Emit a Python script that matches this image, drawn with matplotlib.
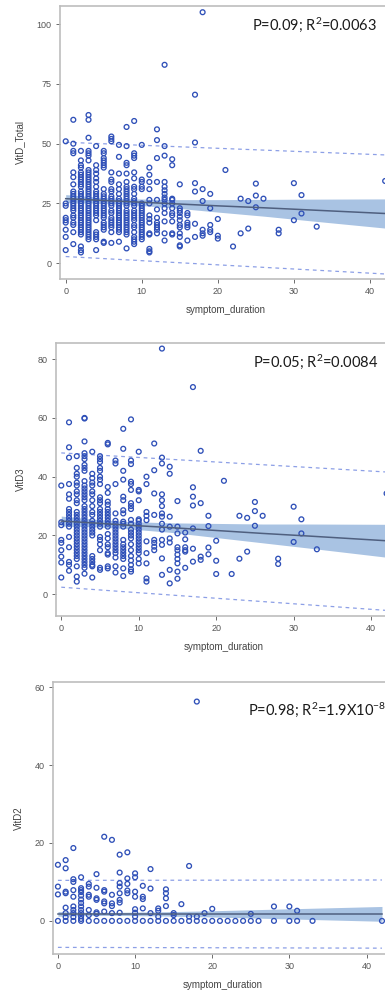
import numpy as np
import matplotlib
matplotlib.use('Agg')
import matplotlib.pyplot as plt

plt.rcParams['font.family'] = ['Liberation Sans', 'DejaVu Sans']
plt.rcParams['mathtext.default'] = 'regular'

# symptom duration values (days) and the VitD readings at each one
days = [0, 1, 2, 3, 4, 5, 6, 7, 8, 9, 10, 11, 12, 13, 14, 15, 16, 17, 18, 19, 20,
        21, 22, 23, 24, 25, 26, 28, 30, 31, 33, 42]

vitd_total = [
    [51, 25, 24, 19, 18, 17, 14, 11, 5.5],
    [60, 50, 47, 46, 38, 36, 33, 30, 29, 28, 27, 26, 25, 24, 23, 22, 20, 19, 17, 16, 13, 8],
    [47, 43, 41, 40, 38, 37, 36, 35, 34, 33, 32, 30, 29, 28, 27, 26, 25, 24, 23, 22, 21, 20,
     19, 18, 17, 16, 15, 14, 13, 12, 7, 5.5, 4.5],
    [62, 60, 52.5, 47, 46, 45, 43, 39, 38, 37, 36, 35, 34, 33, 32, 31, 30, 29, 28, 27, 26, 25,
     24, 23, 22, 21, 20, 19, 18, 17, 16, 15, 14, 13, 12, 11, 10],
    [49, 41, 39, 37.5, 35.5, 34, 32, 30, 29, 28, 27, 26, 25, 24, 23, 22, 21, 20, 18, 13, 12, 11, 10, 5.5],
    [47, 46, 44, 43, 42, 41, 40, 31, 29, 28, 27, 26, 25, 24, 23, 22, 21, 20, 19, 17, 16, 15, 14, 9, 8.5],
    [53, 52, 51, 38, 35, 34, 31, 30, 28, 27, 26, 25, 24, 22, 21, 19, 18, 17, 16, 15, 13, 8.5],
    [49.5, 44.5, 37.5, 33, 31, 29, 27, 26, 25, 24, 23, 22, 21, 20, 19, 18, 17, 16, 15, 14, 13, 9],
    [57, 49, 42, 41, 37.5, 34, 32, 31, 30, 29, 28, 27, 26, 25, 24, 22, 21, 20, 19, 18, 17, 16,
     15, 14, 13, 12, 6.2],
    [59.5, 46, 45, 44, 38, 35.5, 32, 31, 29, 27, 26, 25, 24, 22, 21, 20, 19, 18, 16, 15, 13, 11, 10, 9, 8],
    [49.5, 35, 34, 32, 31, 25, 24, 23, 22, 21, 20, 19, 18, 17, 16, 15, 14, 13, 12, 11, 10],
    [40, 37, 34, 31, 26.5, 25, 20, 18.5, 17, 12.5, 12, 6, 5, 4.5],
    [56, 51.5, 44, 34, 26.5, 22.5, 19, 17, 16, 15, 14, 12.5],
    [83, 49, 45, 34, 32, 30.5, 29, 27.5, 26.5, 25, 23, 21, 17.5, 12.5, 9.5],
    [43.5, 41, 27, 26.5, 25, 23, 21, 20, 17.5, 12.5, 12],
    [33, 23, 22, 21, 19.5, 18, 16, 15, 12.5, 11, 7.5, 7],
    [21, 20, 17, 16, 15, 9.5],
    [70.5, 50.5, 33.5, 30, 16.5, 11],
    [105, 31, 26, 14, 12.5, 11.5],
    [29, 23, 16, 14, 13],
    [18.5, 11.5, 10.3],
    [39], [7], [27, 12.5], [26, 14.5], [33.3, 28.3, 23.4], [27],
    [14, 12.5], [33.5, 18], [28.5, 20.8], [15.3], [34.4],
]

vitd3 = [
    [37, 24.5, 23.5, 18.5, 17.5, 15, 12.8, 10.8, 5.7],
    [58.5, 50, 46.5, 37.5, 34, 32.5, 29, 28, 27, 26, 25, 24, 23, 19.5, 16, 11, 10, 8],
    [47, 43, 41, 40, 38, 37, 35, 34, 32, 31, 28, 27, 26, 25, 24, 23, 22, 21, 20, 19, 18, 17,
     16, 15, 14, 13, 12, 9.5, 6, 4.3],
    [60, 59.8, 52, 48, 47, 46, 44, 43, 42, 38.5, 37, 36, 35, 34, 33, 32, 30, 29, 28, 27, 26, 25,
     24, 23, 22, 21, 20, 19, 18, 17, 16, 15, 14, 13, 12, 11, 10, 9, 7],
    [48.5, 41, 39.5, 38, 37, 35, 34, 32, 30, 28, 27, 25, 24, 23, 22, 21, 20, 13, 12, 11, 10, 9.5, 5.7],
    [47, 46, 45, 43, 42, 40, 39, 37.5, 33, 32, 31, 29, 28, 27, 26, 25, 24, 23, 19.5, 18.5, 17, 15, 9, 8.3],
    [51.5, 51, 36.5, 34.5, 31.5, 30.5, 29, 28, 27, 26, 25, 24, 23, 20.5, 19, 17, 16, 14, 13.5, 9.5, 8.8],
    [45.5, 44.5, 37.5, 27.5, 25, 24, 23, 22, 21, 20, 19, 18, 17, 16, 15, 14, 12.5, 9.5, 7.4],
    [56.3, 49.5, 42, 39, 33.2, 32, 28.6, 27.5, 24.7, 24, 23, 18.5, 17, 16, 15, 14, 13, 12, 8.8, 6.2],
    [59.5, 45.5, 44.3, 38.3, 37.5, 35.5, 31, 30, 29, 25.3, 24, 22, 21, 20, 19, 17, 15, 13, 11.5, 10, 8.5, 7.7],
    [48.5, 35.5, 35, 32, 25.5, 25, 24, 23, 22, 21, 20, 19, 18, 17, 16, 15, 14, 12, 10.5],
    [40, 37.5, 28, 26.7, 25.2, 18, 14, 10.5, 5.4, 4.3],
    [51.3, 42.2, 34.3, 27, 18.5, 17.5, 16.2, 15],
    [83.6, 46.5, 44.5, 34, 32, 30, 27.5, 26.4, 24, 22, 18.5, 16.8, 12.2, 6.6],
    [43.4, 41, 26.4, 23, 19, 17.6, 8.3, 3.7],
    [31.7, 23, 20.7, 16, 15, 13.5, 12, 10.5, 7.7, 5.3],
    [21, 18.7, 16, 15, 14.5, 9],
    [70.5, 36.4, 33.2, 30.2, 22.4, 15.5, 11.1],
    [48.8, 31, 12.8, 11.7],
    [26.7, 23.2, 15.9, 13.6],
    [18.2, 11.4, 6.9],
    [38.6], [6.9], [26.7, 12.1], [26, 14.5], [31.4, 28.3, 23.3], [26.7],
    [12.1, 10.3], [29.8, 17.8], [25.5, 20.7], [15.3], [34.3],
]

vitd2 = [
    [14.4, 8.8, 6.8, 0],
    [15.6, 13.5, 7.5, 7.1, 3.4, 2, 1, 0],
    [18.7, 10.7, 10, 7.9, 6.2, 3.7, 2.8, 2, 1, 0],
    [11.2, 8.4, 7.9, 7.4, 6.5, 5.5, 4.6, 3.7, 2.8, 2, 1.2, 0.5, 0],
    [9.5, 8.8, 6.7, 6.2, 2.8, 1.5, 0],
    [12, 8.5, 5.8, 5.4, 2.2, 1.8, 0],
    [21.6, 7.9, 7.5, 5, 4.5, 2.4, 0],
    [20.8, 6.7, 4.5, 3.8, 2, 0],
    [17, 12.4, 9.7, 8.8, 7.1, 5.4, 4.7, 2.1, 0],
    [17.6, 10.9, 9.5, 7.8, 7.1, 0],
    [12.2, 11.2, 7.5, 6.2, 3, 2.1, 1.1, 0],
    [9, 6.2, 5.6, 3.2, 0],
    [13.3, 8.3, 2, 0],
    [3.2, 2.6, 1.1, 0],
    [8.1, 7.1, 5.8, 3.8, 0],
    [2, 1.5, 0],
    [4.3, 0],
    [14.1, 1.1, 0],
    [56.3, 1.1, 0],
    [2, 0],
    [3.1, 0],
    [0], [0], [0], [0], [1.8, 0], [0],
    [3.7, 0], [3.7, 0], [2.6, 0], [0], [0],
]

# fitted line, 95% confidence band and prediction limits
band_x = [0, 4, 8, 14, 20, 26, 32, 42]
total_fit = [27.0, 26.4, 25.8, 24.9, 24.0, 23.2, 22.3, 20.8]
total_ci_hi = [28.7, 27.7, 27.0, 26.6, 26.6, 26.7, 26.8, 26.9]
total_ci_lo = [25.3, 25.1, 24.6, 23.2, 21.4, 19.7, 17.8, 14.7]
d3_fit = [24.9, 24.3, 23.6, 22.7, 21.7, 20.7, 19.8, 18.2]
d3_ci_hi = [26.6, 25.6, 24.8, 24.3, 24.1, 23.9, 23.9, 23.8]
d3_ci_lo = [23.2, 23.0, 22.4, 21.1, 19.3, 17.5, 15.7, 12.6]
d2_fit = [1.8, 1.8, 1.8, 1.8, 1.8, 1.8, 1.8, 1.8]
d2_ci_hi = [2.4, 2.2, 2.2, 2.35, 2.6, 2.9, 3.2, 3.7]
d2_ci_lo = [1.2, 1.4, 1.4, 1.25, 1.0, 0.7, 0.4, -0.1]

pi_x = [0, 42]
total_pi_hi = [50.6, 45.3]
total_pi_lo = [2.8, -4.5]
d3_pi_hi = [48.1, 41.6]
d3_pi_lo = [2.4, -5.5]
d2_pi_hi = [10.4, 10.5]
d2_pi_lo = [-6.8, -7.0]

stats_text = ['P=0.09; R$^2$=0.0063', 'P=0.05; R$^2$=0.0084', 'P=0.98; R$^2$=1.9X10$^{-8}$']
ylabels = ['VitD_Total', 'VitD3', 'VitD2']

W, H = 385, 994
fig = plt.figure(figsize=(W / 100, H / 100), dpi=100)

# axes boxes in pixels: left, top, bottom (right runs off the image)
boxes = [(60, 6, 279), (55.7, 342.7, 616), (53.3, 681.7, 954)]
xlims = [(-0.75, 42.9), (-0.72, 42.7), (-0.6, 43.3)]
ylims = [(-6.6, 107.6), (-7.4, 85.6), (-8.5, 61.4)]
yticks = [[0, 25, 50, 75, 100], [0, 20, 40, 60, 80], [0, 20, 40, 60]]
text_pos = [(252, 25), (253, 361.7), (248, 710)]

panels = [
    (vitd_total, total_fit, total_ci_hi, total_ci_lo, total_pi_hi, total_pi_lo),
    (vitd3, d3_fit, d3_ci_hi, d3_ci_lo, d3_pi_hi, d3_pi_lo),
    (vitd2, d2_fit, d2_ci_hi, d2_ci_lo, d2_pi_hi, d2_pi_lo),
]

marker_col = '#2f50b8'
for i, (vals, fit, ci_hi, ci_lo, pi_hi, pi_lo) in enumerate(panels):
    left, top, bottom = boxes[i]
    ax = fig.add_axes([left / W, 1 - bottom / H, (392 - left) / W, (bottom - top) / H])
    xs = [d for d, ys in zip(days, vals) for _ in ys]
    ys = [y for ys in vals for y in ys]

    ax.fill_between(band_x, ci_lo, ci_hi, color='#a9c3e3', lw=0, zorder=1)
    ax.plot(pi_x, pi_hi, ls=(0, (3, 3)), color='#8c9fe6', lw=0.9, zorder=2)
    ax.plot(pi_x, pi_lo, ls=(0, (3, 3)), color='#8c9fe6', lw=0.9, zorder=2)
    ax.scatter(xs, ys, s=12, facecolors='none', edgecolors=marker_col, linewidths=0.95, zorder=3)
    ax.plot(band_x, fit, color='#4f5f7f', lw=1.1, zorder=4)

    ax.set_xlim(*xlims[i])
    ax.set_ylim(*ylims[i])
    ax.set_xticks([0, 10, 20, 30, 40])
    ax.set_yticks(yticks[i])
    ax.tick_params(labelsize=6.5, colors='#555555', length=3, width=0.6, pad=3)
    for s in ax.spines.values():
        s.set_color('#bdbdbd')
        s.set_linewidth(1.2)
    ax.set_xlabel('symptom_duration', fontsize=7, color='#444444', labelpad=6)
    ax.set_ylabel(ylabels[i], fontsize=7, color='#444444', labelpad=8)

    tx, ty = text_pos[i]
    fig.text(tx / W, 1 - ty / H, stats_text[i], fontsize=10.5, family=['Lato', 'DejaVu Sans'],
             color='#1a1a1a', ha='left', va='center')

fig.savefig('out.png', dpi=100)
